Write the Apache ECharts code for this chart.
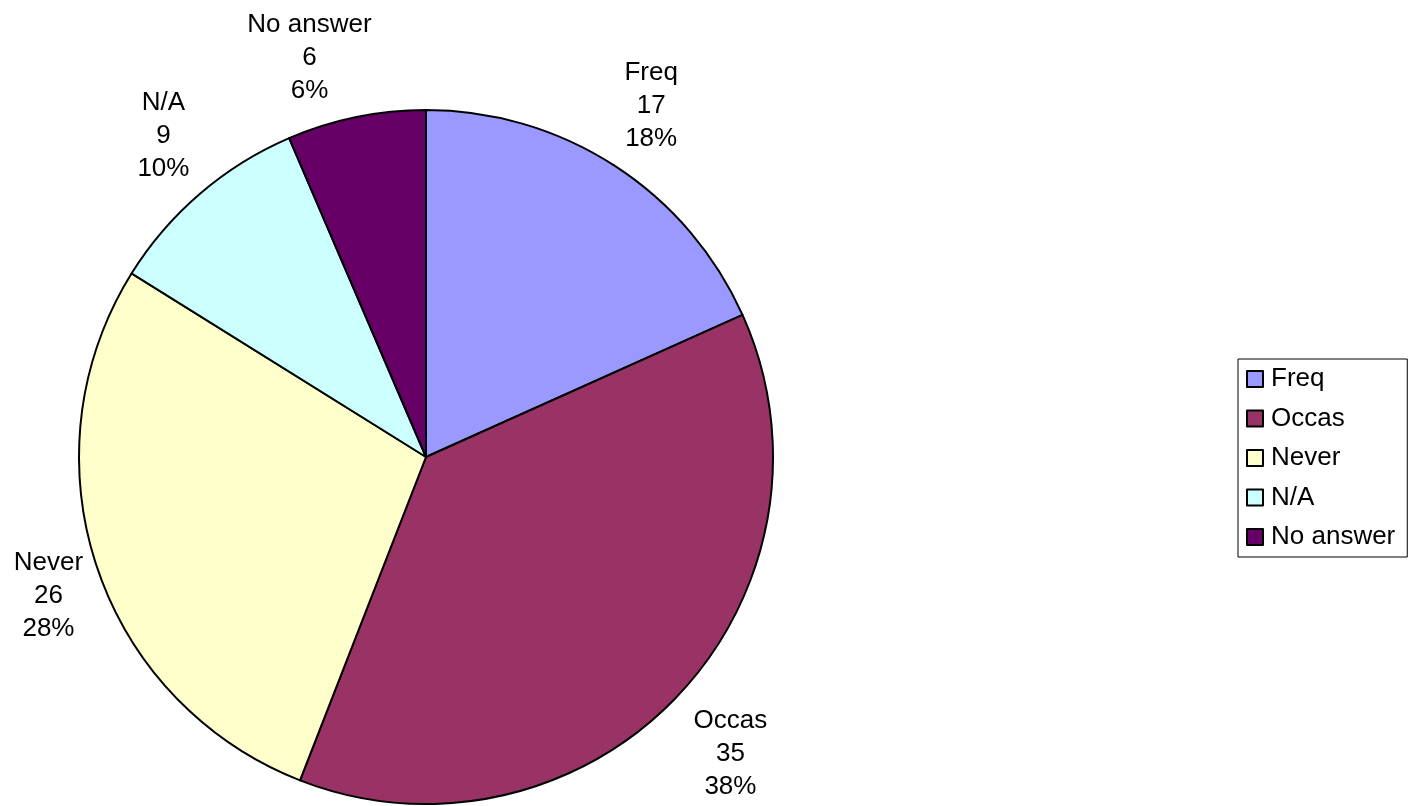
<!DOCTYPE html>
<html>
<head>
<meta charset="utf-8">
<style>
  html, body { margin: 0; padding: 0; background: #ffffff; }
  #chart { width: 1414px; height: 806px; }
</style>
<script src="https://cdn.jsdelivr.net/npm/echarts@6/dist/echarts.min.js"></script>
</head>
<body>
<div id="chart"></div>
<script>
// Survey answers
const categories = ['Freq', 'Occas', 'Never', 'N/A', 'No answer'];
const counts = [17, 35, 26, 9, 6];
const colors = ['#9999FF', '#993366', '#FFFFCC', '#CCFFFF', '#660066'];

// small per-label nudges [dx, dy] from the slice bisector position
const labelNudges = [[-3, 1], [0, 7], [21, 6], [11, -2], [-32, 12]];

const FONT = 'Liberation Sans, Arial, sans-serif';
const CENTER = [426, 457];
const R = 347;

const pieData = categories.map((name, i) => ({
  name: name,
  value: counts[i],
  itemStyle: { color: colors[i] }
}));

const chart = echarts.init(document.getElementById('chart'), null, { renderer: 'canvas' });

chart.setOption({
  backgroundColor: '#ffffff',
  animation: false,
  legend: {
    orient: 'vertical',
    left: 1238,
    top: 359,
    padding: [7, 12, 7, 8],
    itemGap: 13.5,
    itemWidth: 16,
    itemHeight: 16,
    icon: 'rect',
    borderColor: '#000000',
    borderWidth: 1,
    itemStyle: { borderColor: '#000000', borderWidth: 2 },
    textStyle: { fontFamily: FONT, fontSize: 26, color: '#000000', lineHeight: 26, padding: [0, 0, 0, 3] },
    data: categories
  },
  series: [
    {
      // the pie itself
      type: 'pie',
      center: CENTER,
      radius: [0, R],
      startAngle: 90,
      clockwise: true,
      silent: true,
      percentPrecision: 0,
      itemStyle: { borderColor: '#000000', borderWidth: 2 },
      label: { show: false },
      labelLine: { show: false },
      data: pieData
    },
    {
      // transparent outer ring carrying the category / count / percent labels
      type: 'pie',
      center: CENTER,
      radius: [R, R + 140],
      startAngle: 90,
      clockwise: true,
      silent: true,
      percentPrecision: 0,
      itemStyle: { color: 'rgba(0,0,0,0)', borderWidth: 0 },
      label: {
        show: true,
        position: 'inside',
        formatter: '{b}\n{c}\n{d}%',
        fontFamily: FONT,
        fontSize: 26,
        lineHeight: 33,
        color: '#000000',
        align: 'center'
      },
      labelLine: { show: false },
      labelLayout: function (params) {
        const n = labelNudges[params.dataIndex] || [0, 0];
        return { dx: n[0], dy: n[1] };
      },
      data: categories.map((name, i) => ({ name: name, value: counts[i] }))
    }
  ]
});
</script>
</body>
</html>
